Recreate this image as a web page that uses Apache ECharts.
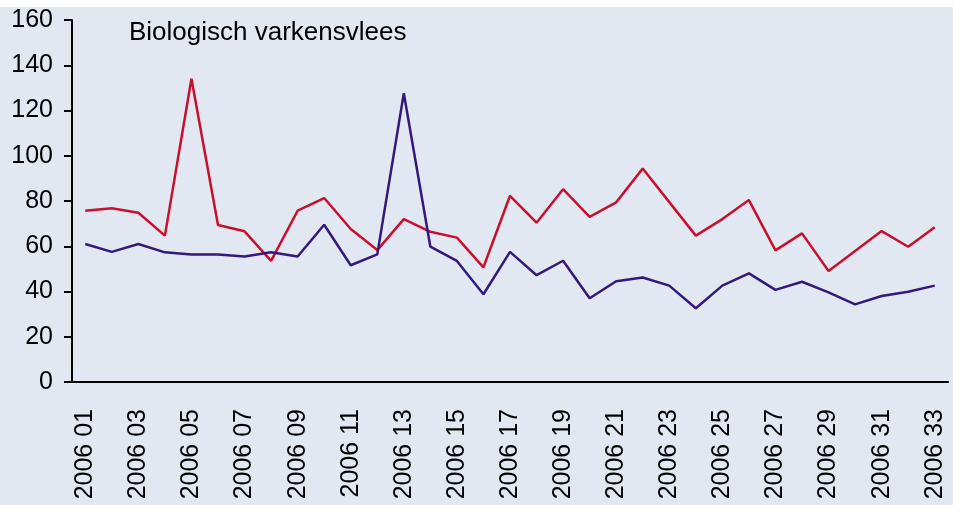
<!DOCTYPE html>
<html>
<head>
<meta charset="utf-8">
<script src="https://cdn.jsdelivr.net/npm/echarts@6/dist/echarts.min.js"></script>
<style>
  html, body { margin: 0; padding: 0; background: #fff; }
  #chart { position: absolute; left: 0; top: 7px; width: 953px; height: 498px; background: #e2e8f1; }
</style>
</head>
<body>
<div id="chart"></div>
<script>
// weeks 2006 01 .. 2006 33
const weeks = ['2006 01','2006 02','2006 03','2006 04','2006 05','2006 06','2006 07','2006 08','2006 09','2006 10',
  '2006 11','2006 12','2006 13','2006 14','2006 15','2006 16','2006 17','2006 18','2006 19','2006 20',
  '2006 21','2006 22','2006 23','2006 24','2006 25','2006 26','2006 27','2006 28','2006 29','2006 30',
  '2006 31','2006 32','2006 33']

// rode lijn
const redValues = [75.7, 76.8, 74.8, 64.7, 134, 69.4, 66.6, 53.5, 75.7, 81.3,
  67.6, 58.3, 72, 66.4, 63.8, 50.7, 82.3, 70.4, 85.2, 73,
  79.4, 94.4, 79.5, 64.7, 72, 80.4, 58.2, 65.7, 49.1, 57.9,
  66.7, 59.8, 68.4]

// paarse lijn
const purpleValues = [61, 57.5, 61, 57.3, 56.4, 56.4, 55.5, 57.3, 55.5, 69.5,
  51.6, 56.4, 127.6, 59.8, 53.5, 38.8, 57.5, 47.2, 53.6, 37,
  44.5, 46.2, 42.6, 32.6, 42.6, 48, 40.7, 44.3, 39.6, 34.3,
  38, 39.9, 42.6]

const chart = echarts.init(document.getElementById('chart'))

chart.setOption({
  animation: false,
  title: {
    text: 'Biologisch varkensvlees',
    left: 124,
    top: 8,
    textStyle: { fontFamily: 'Liberation Sans', fontSize: 26, fontWeight: 'normal', color: '#000' }
  },
  grid: { left: 72, right: 5, top: 13, bottom: 123 },
  xAxis: {
    type: 'category',
    data: weeks,
    boundaryGap: true,
    axisLine: { lineStyle: { color: '#000', width: 2 } },
    axisTick: { interval: 0, length: 8, lineStyle: { color: '#000', width: 2 } },
    axisLabel: {
      interval: 1,
      rotate: 90,
      margin: 27,
      fontFamily: 'Liberation Sans',
      fontSize: 25,
      color: '#000'
    },
    splitLine: { show: false }
  },
  yAxis: {
    type: 'value',
    min: 0,
    max: 160,
    interval: 20,
    axisLine: { show: true, lineStyle: { color: '#000', width: 2 } },
    axisTick: { show: true, length: 8, lineStyle: { color: '#000', width: 2 } },
    axisLabel: { margin: 19, fontFamily: 'Liberation Sans', fontSize: 25, color: '#000' },
    splitLine: { show: false }
  },
  series: [
    {
      name: 'rood',
      type: 'line',
      data: redValues,
      symbol: 'none',
      lineStyle: { color: '#c8102e', width: 2.5 }
    },
    {
      name: 'paars',
      type: 'line',
      data: purpleValues,
      symbol: 'none',
      lineStyle: { color: '#35197a', width: 2.5 }
    }
  ]
})
</script>
</body>
</html>
